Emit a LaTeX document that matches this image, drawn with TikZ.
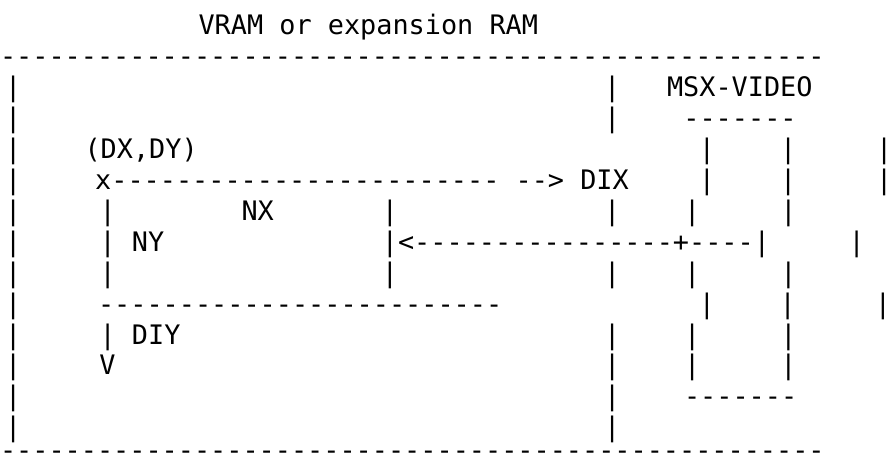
\documentclass[tikz,border=0pt]{standalone}
\usepackage{fontspec}
\setmonofont{DejaVu Sans Mono}

\tikzset{
	ascii/.style={anchor=base west, inner sep=0pt, outer sep=0pt,
		font=\ttfamily\fontsize{26.86pt}{31pt}\selectfont},
}

\begin{document}
\begin{tikzpicture}[x=1pt,y=-1pt]
	\useasboundingbox (0,0) rectangle (886,460);

	% memory frame
	\node[ascii] (title) at (198.5,34.5) {VRAM or expansion RAM};
	\node[ascii] (top) at (0,65.45) {---------------------------------------------------};
	\node[ascii] (bottom) at (0,459) {---------------------------------------------------};
	\foreach \r in {2,...,13}
		\node[ascii] (left\r) at (5.2,{34.5+30.95*\r}) {|};
	\foreach \r in {2,3,6,8,10,11,12,13}
		\node[ascii] (mid\r) at (604.2,{34.5+30.95*\r}) {|};

	% destination block
	\node[ascii] (origin) at (84.5,158.3) {(DX,DY)};
	\node[ascii] (dix) at (95.2,189.25) {x------------------------ --> DIX};
	\node[ascii] (boxl6) at (99.6,220.2) {|};
	\node[ascii] (nx) at (241.5,220.2) {NX};
	\node[ascii] (boxr6) at (381.9,220.2) {|};
	\node[ascii] (ny) at (99.6,251.15) {| NY};
	\node[ascii] (data) at (381.9,251.15) {|<----------------+----|};
	\node[ascii] (boxl8) at (99.6,282.1) {|};
	\node[ascii] (boxr8) at (381.9,282.1) {|};
	\node[ascii] (boxb) at (98,313.05) {-------------------------};
	\node[ascii] (diy) at (99.6,344) {| DIY};
	\node[ascii] (down) at (99.4,374.95) {V};

	% MSX-VIDEO
	\node[ascii] (msx) at (667,96.4) {MSX-VIDEO};
	\node[ascii] (vdpt) at (683.4,127.35) {-------};
	\foreach \r in {4,5}{
		\node[ascii] (vdpa\r) at (698.9,{34.5+30.95*\r}) {|};
		\node[ascii] (vdpb\r) at (780.2,{34.5+30.95*\r}) {|};
		\node[ascii] (vdpc\r) at (876.2,{34.5+30.95*\r}) {|};
	}
	\foreach \r in {6,8,10,11}{
		\node[ascii] (vdpa\r) at (684.2,{34.5+30.95*\r}) {|};
		\node[ascii] (vdpb\r) at (780.4,{34.5+30.95*\r}) {|};
	}
	\node[ascii] (vdpc7) at (848.6,251.15) {|};
	\node[ascii] (vdpa9) at (698.9,313.05) {|};
	\node[ascii] (vdpb9) at (779.6,313.05) {|};
	\node[ascii] (vdpc9) at (874.9,313.05) {|};
	\node[ascii] (vdpb) at (684,405.9) {-------};
\end{tikzpicture}
\end{document}
